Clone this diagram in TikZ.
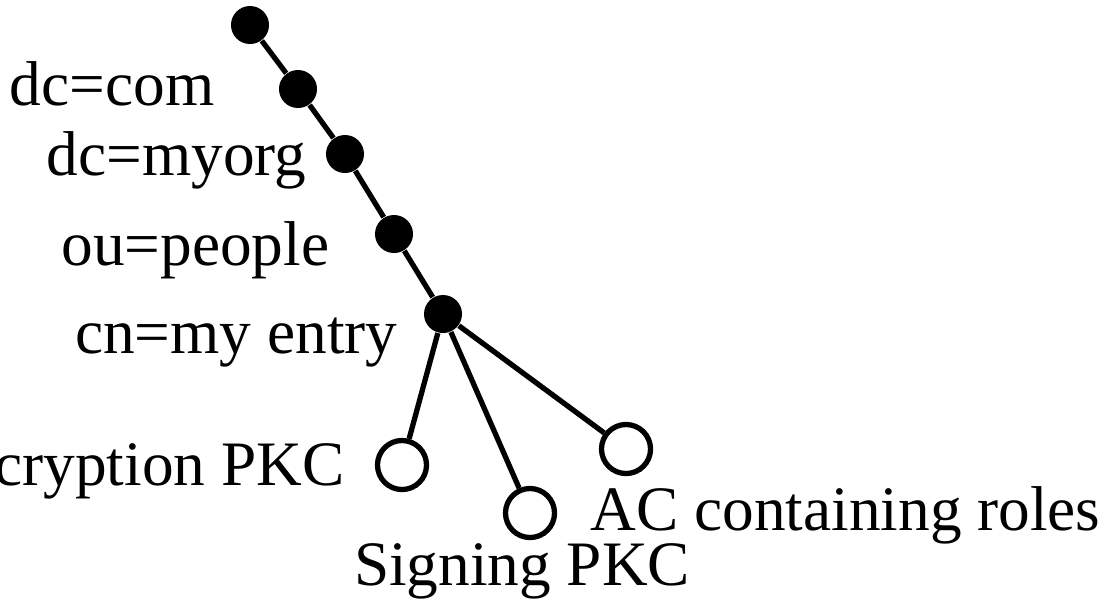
\documentclass[tikz,border=0pt]{standalone}
\usepackage{fontspec}
\setmainfont{Liberation Serif}

\tikzset{
  entry/.style={circle,fill=black,inner sep=0pt,minimum size=0.38cm},
  cert/.style={circle,draw=black,line width=1.5pt,inner sep=0pt,minimum size=0.49cm},
  lbl/.style={font=\fontsize{18}{22}\selectfont,inner sep=0pt}
}

\begin{document}
\begin{tikzpicture}[x=0.01cm,y=-0.01cm]
        \useasboundingbox (0,0) rectangle (1107,605);
        \clip (0,0) rectangle (1107,605);
        % directory path
        \node[entry] (root) at (250,25) {};
        \node[entry] (com) at (298,89) {};
        \node[entry] (myorg) at (345,154) {};
        \node[entry] (people) at (394,234) {};
        \node[entry] (me) at (443,314) {};
        % certificates below the entry
        \node[cert] (enc) at (402,465) {};
        \node[cert] (sig) at (530,513) {};
        \node[cert] (ac) at (626,449) {};
        \draw[line width=1.5pt] (root) -- (com) -- (myorg) -- (people) -- (me);
        \draw[line width=1.5pt] (me) -- (enc);
        \draw[line width=1.5pt] (me) -- (sig);
        \draw[line width=1.5pt] (me) -- (ac);
        \node[lbl,anchor=base east] (lcom) at (215,105) {dc=com};
        \node[lbl,anchor=base east] (lmyorg) at (307,175) {dc=myorg};
        \node[lbl,anchor=base east] (lpeople) at (330,265) {ou=people};
        \node[lbl,anchor=base east] (lme) at (398,353) {cn=my entry};
        \node[lbl,anchor=base east] (lenc) at (345,485) {Encryption PKC};
        \node[lbl,anchor=base] (lsig) at (522,585) {Signing PKC};
        \node[lbl,anchor=base west] (lac) at (590,530) {AC containing roles};
\end{tikzpicture}
\end{document}
